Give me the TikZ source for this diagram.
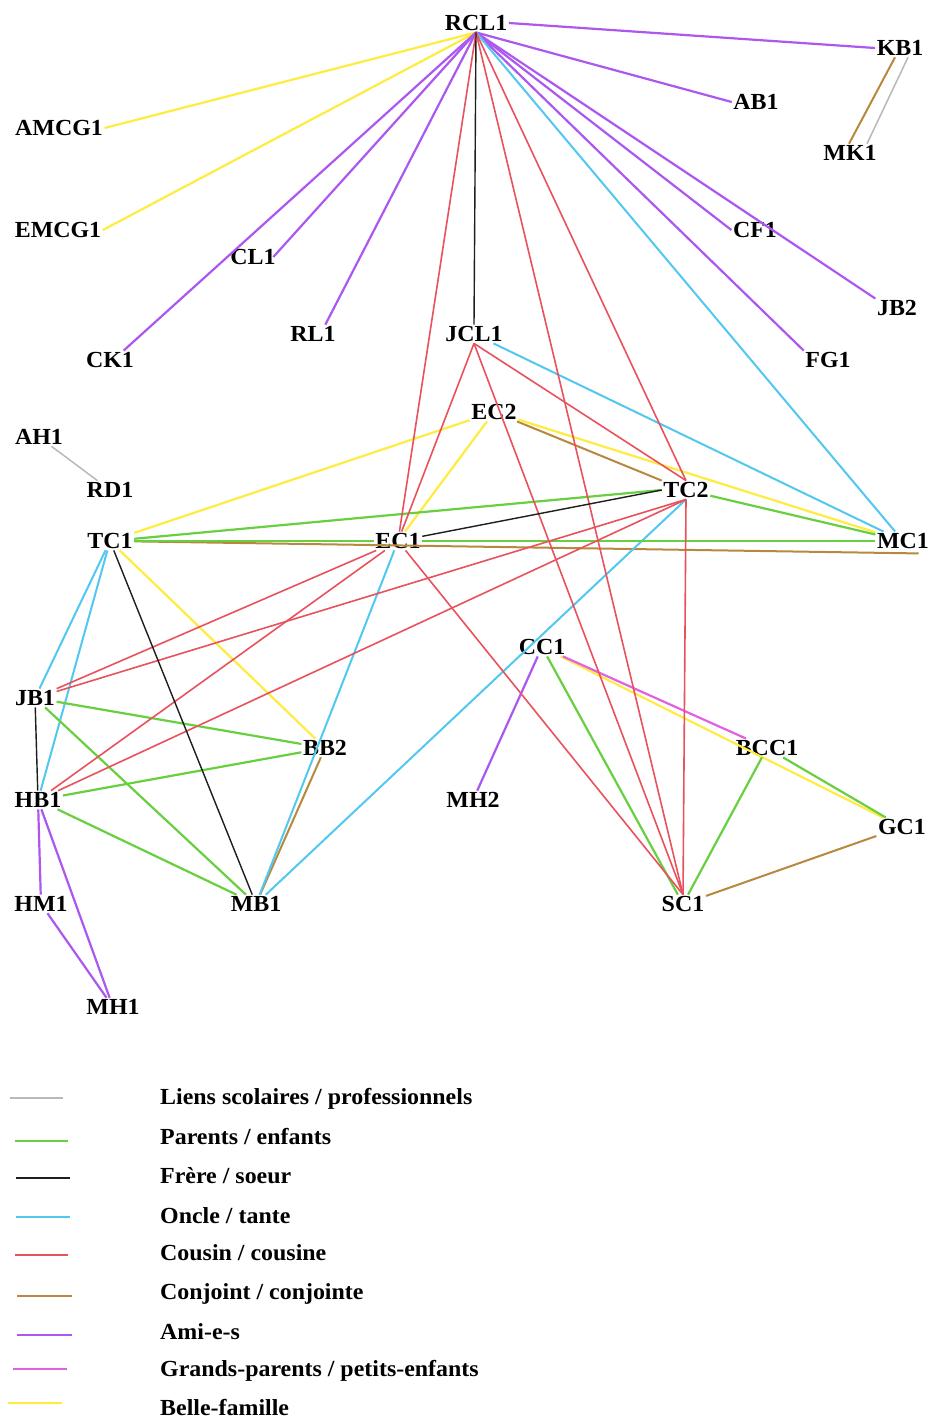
\documentclass[tikz,border=0pt]{standalone}
\usepackage{fontspec}
\setmainfont{Liberation Serif}[FakeStretch=1.04]
\definecolor{lgray}{RGB}{185,185,185}
\definecolor{lgreen}{RGB}{104,208,64}
\definecolor{lblack}{RGB}{30,30,30}
\definecolor{lcyan}{RGB}{82,200,240}
\definecolor{lred}{RGB}{232,82,92}
\definecolor{lbrown}{RGB}{184,136,62}
\definecolor{lpurple}{RGB}{172,88,240}
\definecolor{lmagenta}{RGB}{226,96,226}
\definecolor{lyellow}{RGB}{255,236,64}
\begin{document}
\begin{tikzpicture}[x=1pt,y=-1pt,
  lbl/.style={font=\fontsize{23}{27}\selectfont\bfseries, inner sep=1.5pt, text=black},
  leg/.style={font=\fontsize{23}{27}\selectfont\bfseries, anchor=base west, inner sep=0pt},
  school/.style={draw=lgray, line width=1.5pt},
  parent/.style={draw=lgreen, line width=2.2pt},
  sibling/.style={draw=lblack, line width=1.4pt},
  uncle/.style={draw=lcyan, line width=2pt},
  cousin/.style={draw=lred, line width=1.6pt},
  spouse/.style={draw=lbrown, line width=2pt},
  friend/.style={draw=lpurple, line width=2.2pt},
  grand/.style={draw=lmagenta, line width=2.2pt},
  inlaw/.style={draw=lyellow, line width=2.2pt}]
\useasboundingbox (0,0) rectangle (932,1421);
\fill[white] (0,0) rectangle (932,1421);

% ---- nodes ----
\node[lbl] (RCL1) at (476,23) {RCL1};
\node[lbl] (KB1) at (900,48) {KB1};
\node[lbl] (AB1) at (756,102) {AB1};
\node[lbl] (AMCG1) at (59,128) {AMCG1};
\node[lbl] (MK1) at (850,153) {MK1};
\node[lbl] (EMCG1) at (58,230) {EMCG1};
\node[lbl] (CF1) at (755,230) {CF1};
\node[lbl] (CL1) at (253,257) {CL1};
\node[lbl] (JB2) at (897,308) {JB2};
\node[lbl] (RL1) at (313,334) {RL1};
\node[lbl] (JCL1) at (474,334) {JCL1};
\node[lbl] (CK1) at (110,360) {CK1};
\node[lbl] (FG1) at (828,360) {FG1};
\node[lbl] (EC2) at (494,412) {EC2};
\node[lbl] (AH1) at (39,437) {AH1};
\node[lbl] (RD1) at (110,490) {RD1};
\node[lbl] (TC2) at (686,490) {TC2};
\node[lbl] (TC1) at (110,541) {TC1};
\node[lbl] (EC1) at (398,541) {EC1};
\node[lbl] (MC1) at (903,541) {MC1};
\node[lbl] (CC1) at (542,647) {CC1};
\node[lbl] (JB1) at (35,698) {JB1};
\node[lbl] (BB2) at (325,748) {BB2};
\node[lbl] (BCC1) at (767,748) {BCC1};
\node[lbl] (HB1) at (38,800) {HB1};
\node[lbl] (MH2) at (473,800) {MH2};
\node[lbl] (GC1) at (902,827) {GC1};
\node[lbl] (HM1) at (41,904) {HM1};
\node[lbl] (MB1) at (256,904) {MB1};
\node[lbl] (SC1) at (683,904) {SC1};
\node[lbl] (MH1) at (113,1007) {MH1};

% ---- school / work ----
\draw[school] (AH1) -- (RD1);
\draw[school] ([xshift=8pt]KB1.south) -- ([xshift=17pt]MK1.north);
% ---- spouses ----
\draw[spouse] ([xshift=-5pt]KB1.south) -- ([xshift=-1pt]MK1.north);
\draw[spouse] (EC2) -- (TC2.north west);
\draw[spouse] (TC1) -- ([xshift=-12pt,yshift=-3pt]MC1.south east);
\draw[spouse] (BB2) -- (MB1);
\draw[spouse] (SC1) -- (GC1);
% ---- in-laws ----
\draw[inlaw] (RCL1.south) -- (AMCG1.east);
\draw[inlaw] (RCL1.south) -- (EMCG1.east);
\draw[inlaw] (EC2) -- (TC1);
\draw[inlaw] (EC2) -- (EC1);
\draw[inlaw] (EC2) -- (MC1);
\draw[inlaw] (TC1) -- (BB2);
\draw[inlaw] (CC1) -- (GC1);
% ---- friends ----
\draw[friend] (RCL1.east) -- (KB1.west);
\draw[friend] (RCL1.south) -- (AB1.west);
\draw[friend] (RCL1.south) -- ([xshift=-12pt]CK1.north east);
\draw[friend] (RCL1.south) -- ([xshift=-4pt]CL1.east);
\draw[friend] (RCL1.south) -- ([xshift=-12pt]RL1.north east);
\draw[friend] (RCL1.south) -- (CF1.west);
\draw[friend] (RCL1.south) -- (JB2.north west);
\draw[friend] (RCL1.south) -- (FG1.north west);
\draw[friend] (CC1) -- (MH2);
\draw[friend] (HB1) -- (HM1);
\draw[friend] (HB1) -- (MH1);
\draw[friend] (HM1) -- (MH1);
% ---- grandparents ----
\draw[grand] (CC1) -- (BCC1);
% ---- uncles / aunts ----
\draw[uncle] (RCL1.south) -- (MC1);
\draw[uncle] (JCL1) -- (MC1);
\draw[uncle] (TC1) -- (JB1);
\draw[uncle] (TC1) -- (HB1);
\draw[uncle] (EC1) -- (MB1);
\draw[uncle] (TC2.south) -- (MB1);
% ---- parents / children ----
\draw[parent] (TC1) -- (TC2.west);
\draw[parent] (TC1) -- (EC1);
\draw[parent] (EC1) -- (MC1);
\draw[parent] (TC2) -- (MC1);
\draw[parent] (JB1) -- (BB2);
\draw[parent] (JB1) -- (MB1);
\draw[parent] (HB1) -- (BB2);
\draw[parent] (HB1) -- (MB1);
\draw[parent] (CC1) -- (SC1);
\draw[parent] (BCC1) -- (SC1);
\draw[parent] (BCC1) -- (GC1);
% ---- cousins ----
\draw[cousin] (RCL1.south) -- (EC1);
\draw[cousin] (RCL1.south) -- (TC2.north);
\draw[cousin] (RCL1.south) -- (SC1.north);
\draw[cousin] (JCL1.south) -- (EC1);
\draw[cousin] (JCL1.south) -- (TC2.north);
\draw[cousin] (JCL1.south) -- (SC1.north);
\draw[cousin] (EC1) -- (JB1);
\draw[cousin] (EC1) -- (HB1);
\draw[cousin] (EC1) -- (SC1.north);
\draw[cousin] (TC2.south) -- (JB1);
\draw[cousin] (TC2.south) -- (HB1);
\draw[cousin] (TC2.south) -- (SC1.north);
% ---- siblings ----
\draw[sibling] (RCL1.south) -- (JCL1.north);
\draw[sibling] (EC1) -- (TC2.west);
\draw[sibling] (TC1) -- (MB1);
\draw[sibling] (JB1) -- (HB1);

% ---- legend ----
\draw[school]  (10,1098) -- (63,1098);
\draw[parent]  (15,1141) -- (68,1141);
\draw[sibling] (16,1178) -- (70,1178);
\draw[uncle]   (16,1217) -- (70,1217);
\draw[cousin]  (15,1255) -- (68,1255);
\draw[spouse]  (17,1296) -- (72,1296);
\draw[friend]  (17,1335) -- (72,1335);
\draw[grand]   (13,1369) -- (67,1369);
\draw[inlaw]   (8,1403) -- (62,1403);
\node[leg] (t1) at (160,1104) {Liens scolaires / professionnels};
\node[leg] (t2) at (160,1144) {Parents / enfants};
\node[leg] (t3) at (160,1183) {Frère / soeur};
\node[leg] (t4) at (160,1223) {Oncle / tante};
\node[leg] (t5) at (160,1260) {Cousin / cousine};
\node[leg] (t6) at (160,1299) {Conjoint / conjointe};
\node[leg] (t7) at (160,1339) {Ami-e-s};
\node[leg] (t8) at (160,1376) {Grands-parents / petits-enfants};
\node[leg] (t9) at (160,1415) {Belle-famille};
\end{tikzpicture}
\end{document}
